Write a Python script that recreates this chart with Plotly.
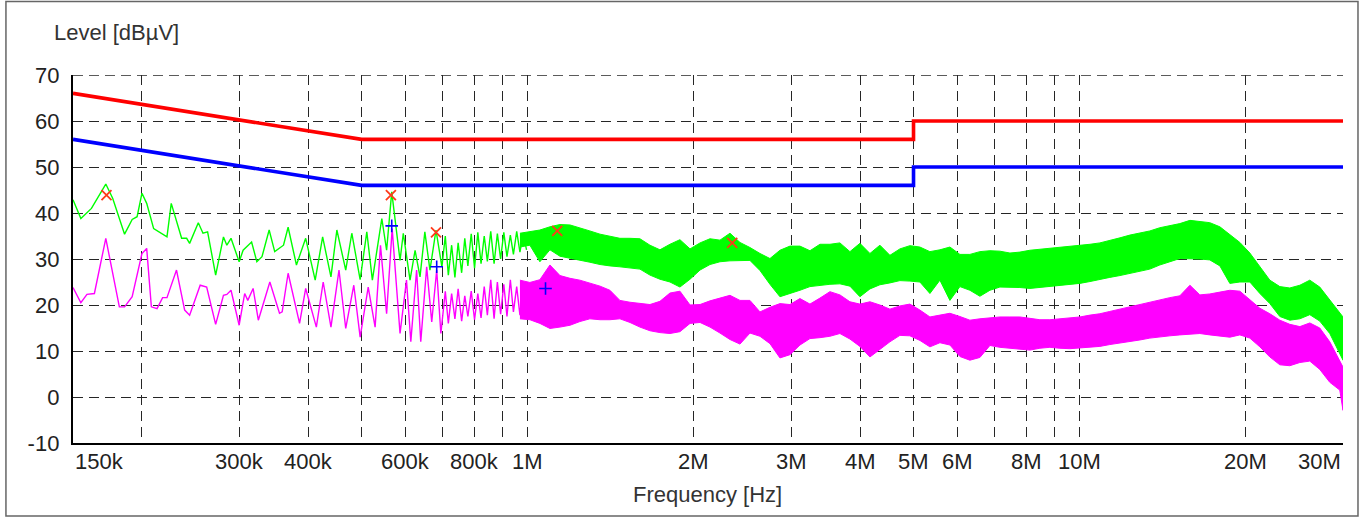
import math
import plotly.graph_objects as go

# ---------------- data ----------------
# limit lines (MHz, dBuV)
qp_f = [0.15, 0.5, 5.0, 5.0, 30.0]
qp_v = [66, 56, 56, 60, 60]
av_f = [0.15, 0.5, 5.0, 5.0, 30.0]
av_v = [56, 46, 46, 50, 50]

# low-frequency part of the peak (green) scan, kHz / dBuV
green_lf_f = [150, 155, 162, 172, 177, 186, 192, 196, 200, 204, 210, 216, 222, 226, 231, 236, 241, 244,
              253, 258, 263, 272, 281, 285, 290, 300, 305, 316, 323, 330, 340, 348, 361, 368, 381, 396,
              412, 425, 440, 451, 468, 480, 497, 511, 523, 544, 555, 567, 587, 595, 612, 625, 638, 651,
              665, 682, 699, 709, 718, 728, 738, 748, 759, 769, 779, 790, 801, 812, 823, 834, 845, 857,
              869, 881, 893, 905, 917, 930, 942, 955, 968, 981, 995]
green_lf_v = [42.9, 38.8, 41.0, 46.3, 43.2, 35.4, 38.6, 39.2, 44.3, 42.1, 36.6, 35.6, 34.8, 42.1, 38.4, 34.5, 34.5, 33.4,
              37.9, 35.6, 35.9, 26.5, 34.8, 33.0, 34.5, 29.4, 31.9, 33.7, 29.4, 30.5, 36.3, 31.6, 33.0, 36.9, 28.7, 34.5,
              25.4, 34.8, 26.1, 36.3, 27.6, 35.6, 25.5, 35.9, 25.4, 38.8, 31.9, 44.6, 29.7, 35.6, 25.4, 31.9, 26.1, 35.9,
              27.6, 36.3, 28.3, 35.0, 26.5, 33.0, 26.0, 33.5, 27.0, 34.5, 28.5, 35.5, 28.0, 35.8, 29.0, 35.0, 29.5, 36.0,
              29.0, 35.5, 30.0, 35.8, 30.5, 35.2, 31.0, 36.0, 31.5, 35.5, 32.0]

# low-frequency part of the average (magenta) scan, kHz / dBuV
mag_lf_f = [150, 155, 159, 164, 172, 182, 186, 192, 200, 204, 208, 213, 218, 222, 231, 239, 244, 255, 262,
            272, 281, 285, 290, 300, 307, 311, 318, 325, 341, 355, 359, 368, 386, 396, 414, 426, 440, 455,
            468, 484, 497, 514, 529, 541, 555, 568, 587, 603, 614, 629, 640, 656, 670, 684, 696, 709, 718,
            728, 738, 748, 759, 769, 779, 790, 801, 812, 823, 834, 845, 857, 869, 881, 893, 905, 917, 930,
            942, 955, 968, 981, 995]
mag_lf_v = [23.8, 20.5, 22.3, 22.5, 34.5, 19.6, 19.6, 21.8, 31.2, 32.3, 19.6, 19.2, 21.6, 21.6, 27.6, 18.9, 17.8, 24.3, 23.9,
            15.8, 22.1, 22.3, 23.2, 15.6, 22.5, 21.0, 23.6, 16.7, 25.0, 18.2, 18.5, 26.9, 16.0, 23.6, 15.2, 25.0, 15.2, 27.6,
            14.9, 24.3, 13.0, 23.9, 15.2, 33.0, 18.1, 36.6, 13.8, 25.4, 12.0, 27.6, 12.0, 28.3, 16.3, 27.6, 13.8, 23.0, 16.0,
            22.5, 17.0, 23.5, 16.5, 22.0, 17.5, 23.0, 16.8, 22.5, 17.2, 24.0, 17.8, 25.5, 17.0, 25.0, 18.0, 24.5, 17.5, 25.5,
            18.5, 24.0, 17.8, 25.0, 18.0]

# high-frequency part: dense spectrum given as upper / lower envelope (MHz / dBuV)
band_f = [0.968, 1.009, 1.052, 1.097, 1.144, 1.193, 1.243, 1.296, 1.352, 1.409, 1.469, 1.532, 1.597, 1.665,
          1.736, 1.810, 1.887, 1.968, 2.052, 2.139, 2.230, 2.325, 2.424, 2.527, 2.635, 2.747, 2.864, 2.986,
          3.113, 3.246, 3.384, 3.528, 3.678, 3.835, 3.998, 4.169, 4.346, 4.531, 4.724, 4.925, 5.135, 5.354,
          5.582, 5.820, 6.068, 6.326, 6.596, 6.877, 7.169, 7.475, 7.793, 8.125, 8.471, 8.832, 9.208, 9.600,
          10.01, 10.44, 10.88, 11.34, 11.83, 12.33, 12.86, 13.40, 13.97, 14.57, 15.19, 15.84, 16.51, 17.21,
          17.95, 18.71, 19.51, 20.34, 21.21, 22.11, 23.05, 24.03, 25.06, 26.12, 27.23, 28.39, 29.60, 30.0]
green_hi = [35.6, 35.9, 36.3, 37.0, 37.5, 37.4, 36.8, 36.1, 35.4, 34.9, 34.5, 34.5, 34.4, 33.0,
            32.0, 33.2, 34.2, 32.2, 33.5, 34.4, 34.1, 35.6, 33.6, 32.5, 31.2, 30.1, 31.9, 32.8,
            32.8, 31.8, 33.2, 33.2, 33.5, 31.6, 33.4, 31.2, 33.0, 30.8, 32.2, 32.9, 32.6, 31.6,
            32.0, 32.6, 31.0, 31.0, 31.6, 31.8, 31.7, 31.3, 31.5, 31.9, 32.1, 32.3, 32.5, 32.8,
            33.0, 33.2, 33.5, 34.0, 34.6, 35.2, 35.6, 36.1, 36.8, 37.2, 37.7, 38.4, 38.2, 37.9,
            37.0, 35.3, 33.6, 31.3, 28.2, 25.4, 24.0, 23.7, 24.3, 25.4, 23.9, 21.0, 18.3, 17.4]
green_lo = [32.6, 33.0, 29.4, 32.0, 30.6, 30.1, 29.7, 29.3, 28.8, 28.5, 28.3, 28.1, 27.8, 26.5,
            25.6, 25.0, 23.9, 25.6, 27.6, 28.8, 29.4, 29.6, 29.7, 29.7, 27.5, 24.5, 21.8, 22.5,
            23.2, 24.0, 24.3, 24.5, 24.6, 24.1, 21.8, 23.5, 24.4, 24.8, 25.3, 25.2, 25.0, 22.5,
            25.4, 21.0, 24.0, 23.2, 21.9, 23.2, 23.9, 23.9, 23.8, 23.6, 23.8, 24.0, 24.2, 24.5,
            24.7, 25.1, 25.5, 26.0, 26.4, 26.9, 27.3, 27.8, 28.7, 29.4, 30.1, 30.1, 30.0, 29.8,
            28.5, 24.7, 25.0, 25.0, 22.5, 20.3, 17.5, 16.7, 17.0, 17.9, 16.5, 13.8, 9.5, 8.0]
mag_hi = [25.4, 24.9, 25.5, 28.7, 26.4, 25.8, 25.4, 24.8, 24.1, 23.2, 21.0, 20.6, 20.3, 20.1,
          20.8, 22.6, 23.0, 20.0, 20.1, 20.9, 21.5, 22.1, 21.0, 21.0, 18.5, 19.5, 20.3, 20.1,
          21.4, 20.2, 21.5, 22.9, 22.2, 20.7, 20.2, 20.7, 20.0, 19.1, 19.8, 20.2, 18.9, 17.4,
          17.8, 18.2, 17.5, 16.7, 17.0, 17.2, 17.4, 17.4, 17.4, 17.1, 16.8, 16.8, 17.0, 17.2,
          17.4, 17.8, 18.1, 18.6, 19.1, 19.6, 20.1, 20.6, 21.2, 21.6, 22.0, 24.3, 22.2, 22.4,
          22.8, 23.2, 23.0, 21.2, 19.3, 18.1, 16.7, 15.8, 15.3, 16.1, 15.0, 12.0, 8.0, 6.5]
mag_lo = [17.0, 16.8, 16.0, 14.9, 15.2, 15.6, 16.4, 17.0, 16.8, 16.8, 17.0, 16.2, 15.2, 14.4,
          14.0, 13.8, 14.2, 16.0, 16.2, 15.2, 13.9, 12.5, 11.5, 13.9, 13.2, 11.6, 8.5, 9.2,
          11.3, 12.7, 12.9, 13.2, 13.8, 12.6, 11.0, 8.7, 10.4, 12.0, 13.4, 13.3, 12.3, 10.9,
          11.8, 11.3, 8.8, 8.0, 8.6, 11.2, 10.8, 10.6, 10.4, 10.2, 10.6, 10.8, 10.6, 10.5,
          10.6, 10.8, 11.0, 11.4, 11.8, 12.1, 12.4, 12.8, 13.1, 13.3, 13.5, 13.7, 13.8, 13.5,
          13.2, 13.0, 13.5, 12.8, 10.9, 8.7, 7.0, 6.8, 7.5, 7.8, 6.0, 3.2, 1.5, -2.9]

# final measurement points
qp_pk_f = [0.1725, 0.565, 0.682, 1.131, 2.347]
qp_pk_v = [43.9, 43.9, 35.8, 36.1, 33.5]
av_pk_f = [0.567, 0.684, 1.077]
av_pk_v = [37.2, 28.3, 23.6]

# axis ticks
x_grid_mhz = [0.2, 0.3, 0.4, 0.5, 0.6, 0.7, 0.8, 0.9, 1, 2, 3, 4, 5, 6, 7, 8, 9, 10, 20, 30]
x_label_mhz = [0.15, 0.3, 0.4, 0.6, 0.8, 1, 2, 3, 4, 5, 6, 8, 10, 20, 30]
x_label_txt = ["150k", "300k", "400k", "600k", "800k", "1M", "2M", "3M", "4M", "5M", "6M", "8M",
               "10M", "20M", "30M"]
y_ticks = [-10, 0, 10, 20, 30, 40, 50, 60, 70]
y_tick_txt = ["-10", "0", "10", "20", "30", "40", "50", "60", "70"]

# ---------------- figure ----------------
MHZ = 1e6
KHZ = 1e3
FONT = "Liberation Sans, Arial, sans-serif"
FS = 22
TXT = "#222222"
GRID = dict(color="#262626", width=1.4, dash="10px,6px")

fig = go.Figure()

# green (peak) spectrum
fig.add_trace(go.Scatter(x=[f * KHZ for f in green_lf_f], y=green_lf_v, mode="lines",
                         line=dict(color="#00ff00", width=1.4), hoverinfo="skip"))
fig.add_trace(go.Scatter(x=[f * MHZ for f in band_f] + [f * MHZ for f in band_f[::-1]],
                         y=green_hi + green_lo[::-1], mode="lines", fill="toself",
                         fillcolor="#00ff00", line=dict(color="#00ff00", width=1.0), hoverinfo="skip"))
# magenta (average) spectrum
fig.add_trace(go.Scatter(x=[f * KHZ for f in mag_lf_f], y=mag_lf_v, mode="lines",
                         line=dict(color="#ff00ff", width=1.4), hoverinfo="skip"))
fig.add_trace(go.Scatter(x=[f * MHZ for f in band_f] + [f * MHZ for f in band_f[::-1]],
                         y=mag_hi + mag_lo[::-1], mode="lines", fill="toself",
                         fillcolor="#ff00ff", line=dict(color="#ff00ff", width=1.0), hoverinfo="skip"))
# limit lines
fig.add_trace(go.Scatter(x=[f * MHZ for f in qp_f], y=qp_v, mode="lines",
                         line=dict(color="#ff0000", width=3.6), hoverinfo="skip"))
fig.add_trace(go.Scatter(x=[f * MHZ for f in av_f], y=av_v, mode="lines",
                         line=dict(color="#0000ff", width=3.6), hoverinfo="skip"))
# markers
fig.add_trace(go.Scatter(x=[f * MHZ for f in qp_pk_f], y=qp_pk_v, mode="markers",
                         marker=dict(symbol="x-thin", size=10, line=dict(color="#ff3a1a", width=1.8)),
                         hoverinfo="skip"))
fig.add_trace(go.Scatter(x=[f * MHZ for f in av_pk_f], y=av_pk_v, mode="markers",
                         marker=dict(symbol="cross-thin", size=9, line=dict(color="#0000ff", width=1.6)),
                         hoverinfo="skip"))

x_lo, x_hi = 0.15 * MHZ, 30 * MHZ
fig.update_layout(
    width=1361, height=518,
    margin=dict(l=73, r=18, t=75, b=75),
    paper_bgcolor="white", plot_bgcolor="white",
    showlegend=False,
    font=dict(family=FONT, size=FS, color=TXT),
    xaxis=dict(type="log", range=[math.log10(x_lo), math.log10(x_hi)],
               tickmode="array", tickvals=[v * MHZ for v in x_grid_mhz], showticklabels=False,
               showgrid=True, gridcolor=GRID["color"], gridwidth=GRID["width"], griddash=GRID["dash"],
               showline=True, linecolor="black", linewidth=2.4, ticks="", zeroline=False),
    yaxis=dict(range=[-10, 70], tickmode="array", tickvals=y_ticks, ticktext=y_tick_txt,
               showgrid=True, gridcolor=GRID["color"], gridwidth=GRID["width"], griddash=GRID["dash"],
               showline=True, linecolor="black", linewidth=2.4, ticks="", ticklabelstandoff=7,
               zeroline=False, tickfont=dict(size=FS, color=TXT)),
)

# top and right dashed grid borders
fig.add_shape(type="line", xref="paper", yref="y", x0=0, x1=1, y0=70, y1=70,
              line=dict(color=GRID["color"], width=GRID["width"], dash=GRID["dash"]), layer="below")
fig.add_shape(type="line", xref="x", yref="paper", x0=math.log10(x_hi), x1=math.log10(x_hi), y0=0, y1=1,
              line=dict(color=GRID["color"], width=GRID["width"], dash=GRID["dash"]), layer="below")
# outer frame
fig.add_shape(type="rect", xref="paper", yref="paper", x0=-0.0528, x1=1.0118, y0=-0.1984, y1=1.1997,
              line=dict(color="#666666", width=1.5), layer="below")

# x tick labels (end labels are inset at the axis ends)
for i, (v, t) in enumerate(zip(x_label_mhz, x_label_txt)):
    anchor = "left" if i == 0 else ("right" if i == len(x_label_mhz) - 1 else "center")
    fig.add_annotation(x=math.log10(v * MHZ), y=-0.0503, xref="x", yref="paper", text=t, showarrow=False,
                       xanchor=anchor, yanchor="middle", font=dict(size=FS, color=TXT))
# titles
fig.add_annotation(x=-0.0165, y=1.1168, xref="paper", yref="paper", text="Level [dBµV]", showarrow=False,
                   xanchor="left", yanchor="middle", font=dict(size=FS, color="#333333"))
fig.add_annotation(x=0.4996, y=-0.1386, xref="paper", yref="paper", text="Frequency [Hz]", showarrow=False,
                   xanchor="center", yanchor="middle", font=dict(size=FS, color="#333333"))

fig.write_html("out.html")
